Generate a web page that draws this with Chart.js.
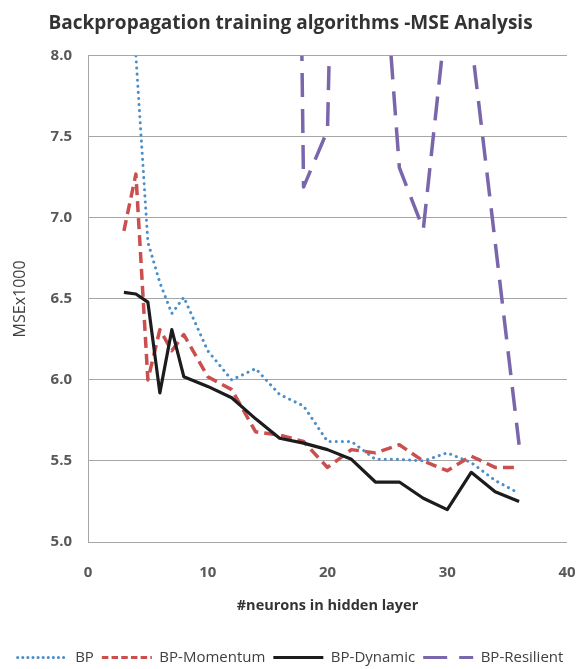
<!DOCTYPE html>
<html>
<head>
<meta charset="utf-8">
<script src="https://cdn.jsdelivr.net/npm/chart.js@4"></script>
<style>
  html, body { margin: 0; padding: 0; background: #fff; overflow: hidden; }
</style>
</head>
<body>
<canvas id="mseChart" width="581" height="669"></canvas>
<script>
// values
const neurons = [3, 4, 5, 6, 7, 8, 10, 12, 14, 16, 18, 20, 22, 24, 26, 28, 30, 32, 34, 36];
const bp = [null, 8.0, 6.85, 6.6, 6.41, 6.51, 6.18, 6.0, 6.07, 5.91, 5.84, 5.62, 5.62, 5.51, 5.51, 5.5, 5.55, 5.49, 5.38, 5.3];
const bpMomentum = [6.92, 7.27, 6.0, 6.31, 6.18, 6.28, 6.02, 5.94, 5.68, 5.66, 5.62, 5.46, 5.57, 5.55, 5.6, 5.5, 5.44, 5.53, 5.46, 5.46];
const bpDynamic = [6.54, 6.53, 6.48, 5.92, 6.31, 6.02, 5.96, 5.89, 5.76, 5.64, 5.61, 5.57, 5.51, 5.37, 5.37, 5.27, 5.2, 5.43, 5.31, 5.25];
const bpResilient = [null, null, null, null, null, null, null, null, null, 19, 7.19, 7.54, 14, 9.3, 7.31, 6.93, 8.3, 8.1, 6.85, 5.6];

const xTicks = [0, 10, 20, 30, 40];
const yTicks = [5.0, 5.5, 6.0, 6.5, 7.0, 7.5, 8.0];

// legend samples use a finer dash than the plot lines for the momentum series
const legendDash = [[0.1, 5], [6.5, 3.2], [], [24, 12]];

Chart.defaults.font.family = "'Open Sans', sans-serif";

const toPoints = (arr) => neurons.map((x, i) => ({ x: x, y: arr[i] }));

const ctx = document.getElementById("mseChart").getContext("2d");

new Chart(ctx, {
  type: "line",
  data: {
    datasets: [
      {
        label: "BP",
        data: toPoints(bp),
        borderColor: "#4a8fc9",
        backgroundColor: "#4a8fc9",
        borderWidth: 3,
        borderDash: [0.1, 6],
        borderCapStyle: "round",
        order: 3,
      },
      {
        label: "BP-Momentum",
        data: toPoints(bpMomentum),
        borderColor: "#c9504e",
        backgroundColor: "#c9504e",
        borderWidth: 3.5,
        borderDash: [11, 6],
        order: 2,
      },
      {
        label: "BP-Dynamic",
        data: toPoints(bpDynamic),
        borderColor: "#1c1c1c",
        backgroundColor: "#1c1c1c",
        borderWidth: 3.2,
        order: 1,
      },
      {
        label: "BP-Resilient",
        data: toPoints(bpResilient),
        borderColor: "#7a66aa",
        backgroundColor: "#7a66aa",
        borderWidth: 3.5,
        borderDash: [24, 12],
        order: 0,
      },
    ],
  },
  options: {
    responsive: false,
    animation: false,
    devicePixelRatio: 1,
    layout: { padding: { left: 0, right: 0, top: 0, bottom: -6 } },
    elements: {
      point: { radius: 0, hoverRadius: 0 },
      line: { tension: 0, borderJoinStyle: "round" },
    },
    plugins: {
      title: {
        display: true,
        text: "Backpropagation training algorithms -MSE Analysis",
        color: "#333333",
        font: { size: 19, weight: "bold" },
        padding: { top: 12, bottom: 21 },
      },
      legend: {
        position: "bottom",
        labels: {
          usePointStyle: true,
          pointStyle: "line",
          pointStyleWidth: 50,
          padding: 8,
          color: "#404040",
          font: { size: 15 },
          sort: (a, b) => a.datasetIndex - b.datasetIndex,
          generateLabels: (chart) => {
            const items = Chart.defaults.plugins.legend.labels.generateLabels(chart);
            items.forEach((item) => {
              const ds = chart.data.datasets[item.datasetIndex];
              item.lineDash = legendDash[item.datasetIndex];
              item.lineCap = ds.borderCapStyle || "butt";
              item.lineWidth = Math.min(ds.borderWidth, 3);
              item.strokeStyle = ds.borderColor;
            });
            return items;
          },
        },
      },
      tooltip: { enabled: false },
    },
    scales: {
      x: {
        type: "linear",
        min: 0,
        max: 40,
        afterBuildTicks: (scale) => {
          scale.ticks = xTicks.map((v) => ({ value: v }));
        },
        afterFit: (scale) => {
          scale.height = 100;
          scale.paddingRight = 14;
        },
        grid: { display: false, drawTicks: false },
        border: { display: false },
        ticks: {
          padding: 22,
          color: "#595959",
          font: { size: 15, weight: "bold" },
        },
        title: {
          display: true,
          text: "#neurons in hidden layer",
          color: "#333333",
          font: { size: 14.5, weight: "bold" },
          padding: { top: 0, bottom: 27 },
        },
      },
      y: {
        min: 5,
        max: 8,
        afterBuildTicks: (scale) => {
          scale.ticks = yTicks.map((v) => ({ value: v }));
        },
        afterFit: (scale) => {
          scale.width = 88;
        },
        grid: { color: "#a6a6a6", lineWidth: 1, drawTicks: false },
        border: { color: "#a6a6a6", width: 1 },
        ticks: {
          padding: 16,
          color: "#595959",
          font: { size: 15, weight: "bold" },
          callback: (value) => value.toFixed(1),
        },
        title: {
          display: true,
          text: "MSEx1000",
          color: "#404040",
          font: { size: 16 },
          padding: { top: 11, bottom: 4 },
        },
      },
    },
  },
});
</script>
</body>
</html>
